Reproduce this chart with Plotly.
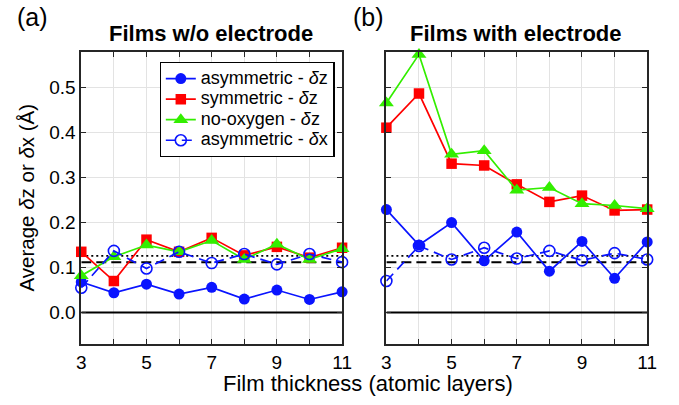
import plotly.graph_objects as go

# ---------------- data ----------------
thickness = [3, 4, 5, 6, 7, 8, 9, 10, 11]

# (a) Films w/o electrode
a_asym_dz = [0.068, 0.044, 0.063, 0.041, 0.056, 0.030, 0.050, 0.029, 0.046]
a_sym_dz = [0.135, 0.070, 0.162, 0.135, 0.166, 0.127, 0.146, 0.122, 0.144]
a_noox_dz = [0.082, 0.124, 0.150, 0.135, 0.160, 0.118, 0.152, 0.118, 0.142]
a_asym_dx = [0.055, 0.137, 0.098, 0.135, 0.110, 0.130, 0.107, 0.130, 0.112]

# (b) Films with electrode
b_asym_dz = [0.229, 0.150, 0.200, 0.115, 0.179, 0.092, 0.158, 0.076, 0.157]
b_sym_dz = [0.411, 0.487, 0.331, 0.327, 0.285, 0.246, 0.260, 0.227, 0.229]
b_noox_dz = [0.466, 0.574, 0.352, 0.360, 0.272, 0.278, 0.242, 0.238, 0.231]
b_asym_dx = [0.070, 0.148, 0.118, 0.144, 0.120, 0.137, 0.116, 0.132, 0.118]

ref_dashed = 0.112
ref_dotted = 0.126
ref_zero = 0.0

series_names = ["asymmetric - <i>δ</i>z", "symmetric - <i>δ</i>z",
                "no-oxygen - <i>δ</i>z", "asymmetric - <i>δ</i>x"]
x_tick_vals = [3, 4, 5, 6, 7, 8, 9, 10, 11]
x_tick_text = ["3", "", "5", "", "7", "", "9", "", "11"]
y_tick_vals = [0.0, 0.1, 0.2, 0.3, 0.4, 0.5]
y_tick_text = ["0.0", "0.1", "0.2", "0.3", "0.4", "0.5"]

# ---------------- figure ----------------
W, H = 679, 405
BLUE = "#0a14ff"
RED = "#ff0000"
GREEN = "#33ee00"
FONT = "Liberation Sans, Arial, sans-serif"
LEG_SIZE = 18

fig = go.Figure()


def legend_label(s):
    return '<span style="font-size:%dpx">%s</span>' % (LEG_SIZE, s)


def add_panel(xa, ya, dz_asym, dz_sym, dz_noox, dx_asym, legend):
    xs = [thickness[0], thickness[-1]]
    # reference lines
    fig.add_trace(go.Scatter(x=xs, y=[ref_zero, ref_zero], mode="lines",
                             line=dict(color="black", width=1.8),
                             xaxis=xa, yaxis=ya, showlegend=False, hoverinfo="skip"))
    fig.add_trace(go.Scatter(x=xs, y=[ref_dashed, ref_dashed], mode="lines",
                             line=dict(color="black", width=2, dash="10px,5px"),
                             xaxis=xa, yaxis=ya, showlegend=False, hoverinfo="skip"))
    fig.add_trace(go.Scatter(x=xs, y=[ref_dotted, ref_dotted], mode="lines",
                             line=dict(color="black", width=1.6, dash="2px,3px"),
                             xaxis=xa, yaxis=ya, showlegend=False, hoverinfo="skip"))
    fig.add_trace(go.Scatter(x=thickness, y=dz_asym, mode="lines+markers",
                             name=legend_label(series_names[0]), showlegend=legend,
                             line=dict(color=BLUE, width=1.7),
                             marker=dict(symbol="circle", size=11, color=BLUE),
                             cliponaxis=False, xaxis=xa, yaxis=ya))
    fig.add_trace(go.Scatter(x=thickness, y=dz_sym, mode="lines+markers",
                             name=legend_label(series_names[1]), showlegend=legend,
                             line=dict(color=RED, width=1.7),
                             marker=dict(symbol="square", size=10.5, color=RED),
                             cliponaxis=False, xaxis=xa, yaxis=ya))
    fig.add_trace(go.Scatter(x=thickness, y=dz_noox, mode="lines+markers",
                             name=legend_label(series_names[2]), showlegend=legend,
                             line=dict(color=GREEN, width=1.7),
                             marker=dict(symbol="triangle-up", size=13, color=GREEN),
                             cliponaxis=False, xaxis=xa, yaxis=ya))
    fig.add_trace(go.Scatter(x=thickness, y=dx_asym, mode="lines+markers",
                             name=legend_label(series_names[3]), showlegend=legend,
                             line=dict(color=BLUE, width=1.7, dash="10px,6px"),
                             marker=dict(symbol="circle-open", size=11, color=BLUE,
                                         line=dict(width=1.6, color=BLUE)),
                             cliponaxis=False, xaxis=xa, yaxis=ya))


add_panel("x", "y", a_asym_dz, a_sym_dz, a_noox_dz, a_asym_dx, True)
add_panel("x2", "y2", b_asym_dz, b_sym_dz, b_noox_dz, b_asym_dx, False)

px_left_a, px_right_a = 78, 344.7
px_left_b, px_right_b = 390, 656.7
px_top, px_bot = 51.7, 344

common_x = dict(range=[3, 11], tickvals=x_tick_vals, ticktext=x_tick_text,
                showgrid=True, gridcolor="#e3e3e3", gridwidth=1.3,
                showline=True, linecolor="#262626", linewidth=1.6, mirror="ticks",
                ticks="inside", ticklen=5, tickcolor="#262626", zeroline=False,
                tickfont=dict(size=19, color="black", family=FONT))
common_y = dict(range=[-0.07, 0.58], tickvals=y_tick_vals, ticktext=y_tick_text,
                showgrid=True, gridcolor="#e3e3e3", gridwidth=1.3,
                showline=True, linecolor="#262626", linewidth=1.6, mirror="ticks",
                ticks="inside", ticklen=5, tickcolor="#262626", zeroline=False,
                tickfont=dict(size=19, color="black", family=FONT))

fig.update_layout(
    width=W, height=H,
    margin=dict(l=0, r=0, t=0, b=0),
    paper_bgcolor="white", plot_bgcolor="white",
    font=dict(family=FONT, color="black"),
    xaxis=dict(domain=[px_left_a / W, px_right_a / W], anchor="y", **common_x),
    yaxis=dict(domain=[1 - px_bot / H, 1 - px_top / H], anchor="x", **common_y),
    xaxis2=dict(domain=[px_left_b / W, px_right_b / W], anchor="y2", **common_x),
    yaxis2=dict(domain=[1 - px_bot / H, 1 - px_top / H], anchor="x2",
                showticklabels=False, **{k: v for k, v in common_y.items() if k != "tickfont"}),
    legend=dict(x=158 / W, y=1 - 62 / H, xanchor="left", yanchor="top",
                bgcolor="white", bordercolor="black", borderwidth=1.3,
                font=dict(size=13.5, family=FONT, color="black"),
                tracegroupgap=0, itemwidth=30),
    showlegend=True,
)

annotations = [
    dict(text="(a)", x=28 / W, y=1 - 17 / H, font=dict(size=25)),
    dict(text="(b)", x=372 / W, y=1 - 17 / H, font=dict(size=25)),
    dict(text="<b>Films w/o electrode</b>", x=211 / W, y=1 - 33 / H, font=dict(size=22)),
    dict(text="<b>Films with electrode</b>", x=522.5 / W, y=1 - 33 / H, font=dict(size=22)),
    dict(text="Film thickness (atomic layers)", x=371.5 / W, y=1 - 383 / H, font=dict(size=22)),
    dict(text="Average <i>δ</i>z or <i>δ</i>x (Å)", x=21 / W, y=1 - 198 / H,
         textangle=-90, font=dict(size=20.5)),
]
for a in annotations:
    a.update(xref="paper", yref="paper", showarrow=False, xanchor="center", yanchor="middle")
    a["font"].update(family=FONT, color="black")
fig.update_layout(annotations=annotations)

fig.write_html("out.html", config={"displayModeBar": False},
               post_script="document.body.style.margin='0';document.body.style.overflow='hidden';")
